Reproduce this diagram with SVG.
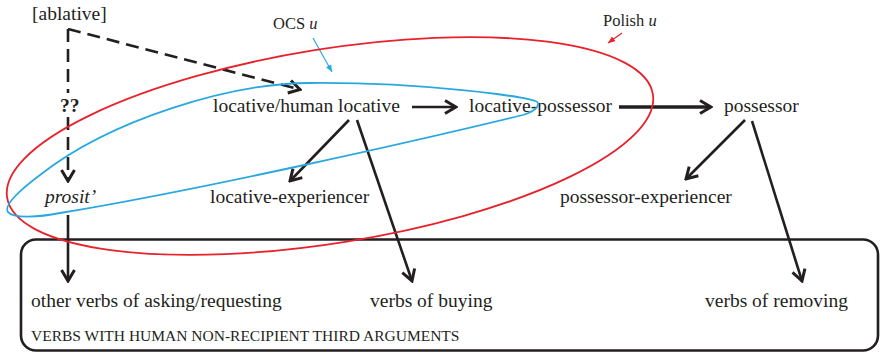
<svg xmlns="http://www.w3.org/2000/svg" width="881" height="354" viewBox="0 0 881 354">
<style>
.t{font-family:"Liberation Serif","Times New Roman",serif;font-size:19.5px;fill:#231f20}
.s{font-size:16.5px}
.cap{font-size:15.5px}
.it{font-style:italic}
.b{font-weight:bold}
.c{fill:none;stroke:#231f20;stroke-width:2.6}
.thick{stroke-width:3.4}
.dash{stroke-dasharray:13 7}
.red{fill:none;stroke:#e8212a;stroke-width:1.8}
.blue{fill:none;stroke:#29a8e0;stroke-width:1.8}
</style>
<defs>
<marker id="ah" markerUnits="userSpaceOnUse" viewBox="-14 -9 16 18" markerWidth="16" markerHeight="18" refX="0" refY="0" orient="auto">
<path d="M-11,-6.5 L0,0 L-11,6.5" fill="none" stroke="#231f20" stroke-width="3" stroke-dasharray="none"/>
</marker>
<marker id="ahb" markerUnits="userSpaceOnUse" viewBox="-8 -4 9 8" markerWidth="9" markerHeight="8" refX="0" refY="0" orient="auto">
<path d="M-7,-3 L0,0 L-7,3 Z" fill="#29a8e0"/>
</marker>
<marker id="ahr" markerUnits="userSpaceOnUse" viewBox="-8 -4 9 8" markerWidth="9" markerHeight="8" refX="0" refY="0" orient="auto">
<path d="M-7,-3 L0,0 L-7,3 Z" fill="#e8212a"/>
</marker>
</defs>

<g id="box">
<rect x="21" y="239.5" width="857" height="111" rx="15" ry="15" fill="none" stroke="#231f20" stroke-width="2.6"/>
<text class="t cap" x="31" y="341">VERBS WITH HUMAN NON-RECIPIENT THIRD ARGUMENTS</text>
</g>

<g id="connectors">
<path class="c dash" d="M68,29 L300,89.5" marker-end="url(#ah)"/>
<path class="c dash" d="M68,29 L68,93"/>
<path class="c dash" d="M68,117 L68,181" marker-end="url(#ah)"/>
<path class="c" d="M68,215 L68,281" marker-end="url(#ah)"/>
<path class="c" d="M412,107 L456,107" marker-end="url(#ah)"/>
<path class="c thick" d="M619,107 L711,107" marker-end="url(#ah)"/>
<path class="c" d="M349,120 L290,181" marker-end="url(#ah)"/>
<path class="c" d="M357,120 L412,281" marker-end="url(#ah)"/>
<path class="c" d="M745,120 L686,179" marker-end="url(#ah)"/>
<path class="c" d="M752,121 L802,281" marker-end="url(#ah)"/>
<path d="M313,38 L332,72" fill="none" stroke="#29a8e0" stroke-width="1.2" marker-end="url(#ahb)"/>
<path d="M622,33 L608,43" fill="none" stroke="#e8212a" stroke-width="1.2" marker-end="url(#ahr)"/>
</g>

<g id="n-ablative"><text class="t" x="32" y="20">[ablative]</text></g>
<g id="n-qq"><text class="t b" x="60" y="112">??</text></g>
<g id="n-prosit"><text class="t it" x="45" y="203">prosit’</text></g>
<g id="n-lochum"><text class="t" x="213" y="112">locative/human locative</text></g>
<g id="n-locposs"><text class="t" x="469" y="112">locative-possessor</text></g>
<g id="n-poss"><text class="t" x="724" y="112">possessor</text></g>
<g id="n-locexp"><text class="t" x="210" y="203">locative-experiencer</text></g>
<g id="n-possexp"><text class="t" x="560" y="203">possessor-experiencer</text></g>
<g id="n-asking"><text class="t" x="31" y="307">other verbs of asking/requesting</text></g>
<g id="n-buying"><text class="t" x="370" y="307">verbs of buying</text></g>
<g id="n-removing"><text class="t" x="705" y="307">verbs of removing</text></g>

<g id="regions">
<ellipse class="red" cx="330" cy="146" rx="327" ry="97" transform="rotate(-9.1 330 146)"/>
<path class="blue" d="M538,103 C537,97 420,82 310,83 C230,83 110,120 40,175 C20,190 3,205 8,212 C13,219 40,217 60,213 C200,190 420,140 523,115 C532,112 539,108 538,103 Z"/>
<text class="t s" x="273" y="29">OCS <tspan class="it">u</tspan></text>
<text class="t s" x="603" y="26">Polish <tspan class="it">u</tspan></text>
</g>
</svg>
